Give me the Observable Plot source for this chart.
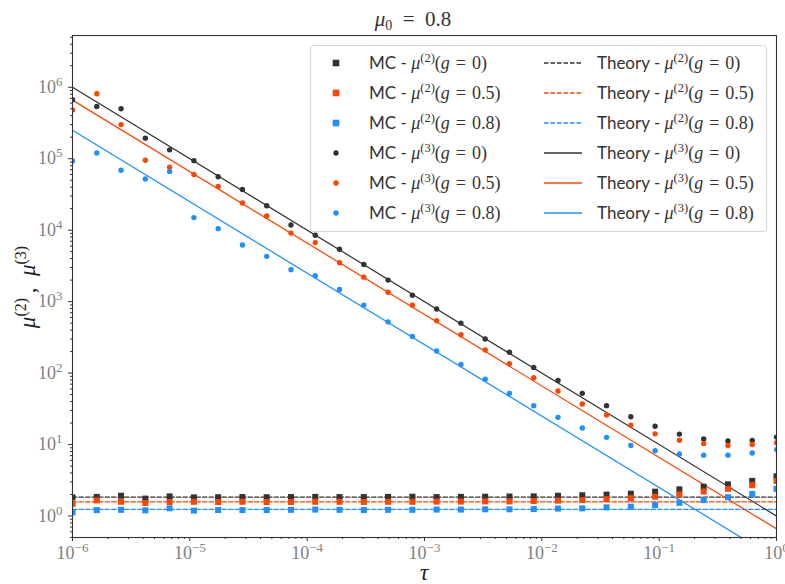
<!DOCTYPE html>
<html><head><meta charset="utf-8">
<script src="https://cdn.jsdelivr.net/npm/d3@7"></script>
<script src="https://cdn.jsdelivr.net/npm/@observablehq/plot@0.6"></script>
<style>
body{margin:0;background:#fff;}
#chart{position:relative;width:785px;height:584px;}
</style></head><body><div id="chart"></div>
<script>
// ---- data ----
const tau = [1e-6,1.61e-6,2.593e-6,4.175e-6,6.723e-6,1.083e-5,1.743e-5,2.807e-5,4.520e-5,7.279e-5,
  1.172e-4,1.887e-4,3.039e-4,4.894e-4,7.880e-4,1.269e-3,2.043e-3,3.290e-3,5.298e-3,8.532e-3,
  1.374e-2,2.212e-2,3.562e-2,5.736e-2,9.237e-2,0.1487,0.2395,0.3857,0.6210,1.0];
const gLabels = ["0","0.5","0.8"];
const gColors = ["#333333","#ff4500","#1e90ff"];
const mu2_g0  = [1.82,1.85,1.92,1.75,1.88,1.82,1.83,1.84,1.83,1.84,1.85,1.84,1.84,1.85,1.86,1.84,1.85,1.86,1.87,1.88,1.92,1.95,1.99,2.05,2.19,2.36,2.57,2.77,3.1,3.6];
const mu2_g05 = [1.48,1.65,1.58,1.52,1.57,1.58,1.57,1.58,1.57,1.57,1.58,1.58,1.57,1.58,1.58,1.59,1.59,1.6,1.6,1.62,1.64,1.67,1.73,1.77,1.86,2.0,2.2,2.4,2.7,3.1];
const mu2_g08 = [1.12,1.21,1.22,1.2,1.28,1.19,1.21,1.21,1.21,1.22,1.23,1.22,1.21,1.22,1.22,1.23,1.23,1.24,1.24,1.25,1.27,1.28,1.32,1.35,1.42,1.53,1.67,1.83,2.03,2.4];
const mu3_g0  = [6.7e5,5.4e5,5.0e5,1.94e5,1.33e5,9.4e4,5.6e4,3.7e4,2.2e4,1.18e4,8.5e3,5.4e3,3.3e3,2.0e3,1.23e3,790,500,300,196,120,79,52,35,24.5,18,14,12,11.2,11.4,12.7];
const mu3_g05 = [4.8e5,8.1e5,3.0e5,9.5e4,7.6e4,6.0e4,4.1e4,2.4e4,1.58e4,9.1e3,6.7e3,3.5e3,2.2e3,1.35e3,890,540,345,210,135,86,56,37,26,18.7,14.1,11.5,10.3,9.7,10,10.6];
const mu3_g08 = [9.3e4,1.2e5,6.9e4,5.2e4,6.6e4,1.5e4,1.05e4,6.2e3,4.3e3,2.8e3,2.3e3,1.48e3,890,520,325,204,132,82,52,35,24,17,12.6,9.7,8.2,7.4,7.1,7.1,7.6,8.5];
const theoryTau = [1e-6, 1];
const th2_g0 = [1.84, 1.84], th2_g05 = [1.57, 1.57], th2_g08 = [1.24, 1.24];
const th3_g0 = [1e6, 1], th3_g05 = [6.6e5, 0.66], th3_g08 = [2.5e5, 0.25];
const xTicks = [1e-6,1e-5,1e-4,1e-3,1e-2,1e-1,1];
const yTicks = [1,10,100,1e3,1e4,1e5,1e6];
const titleText = {base:"μ", sub:"0", rest:" = 0.8"};

// ---- tables ----
const mc2 = [mu2_g0, mu2_g05, mu2_g08].flatMap((arr, k) => arr.map((v, i) => ({tau: tau[i], v, g: gLabels[k]})));
const mc3 = [mu3_g0, mu3_g05, mu3_g08].flatMap((arr, k) => arr.map((v, i) => ({tau: tau[i], v, g: gLabels[k]})));
const th2 = [th2_g0, th2_g05, th2_g08].flatMap((arr, k) => arr.map((v, i) => ({tau: theoryTau[i], v, g: gLabels[k]})));
const th3 = [th3_g0, th3_g05, th3_g08].flatMap((arr, k) => arr.map((v, i) => ({tau: theoryTau[i], v, g: gLabels[k]})));

const minors = (lo, hi) => { const out = []; for (let e = lo; e <= hi; e++) for (let m = 2; m <= 9; m++) out.push(m * 10 ** e); return out; };
const xMinor = minors(-6, -1).filter(d => d < 1);
const yMinor = minors(-1, 6).filter(d => d >= 0.5 && d <= 5.3e6);
const fmt = d => "10^" + Math.round(Math.log10(d));

const serif = "Liberation Serif";
const sans = "Lato";

const plot = Plot.plot({
  width: 785, height: 584,
  marginLeft: 72, marginRight: 9, marginTop: 35, marginBottom: 47,
  style: {fontFamily: serif, background: "white", overflow: "visible"},
  x: {type: "log", domain: [1e-6, 1]},
  y: {type: "log", domain: [0.5, 5.3e6]},
  color: {domain: gLabels, range: gColors},
  marks: [
    Plot.line(th2, {x: "tau", y: "v", z: "g", stroke: "g", strokeWidth: 1.25, strokeDasharray: "4.5,2", clip: true}),
    Plot.line(th3, {x: "tau", y: "v", z: "g", stroke: "g", strokeWidth: 1.25, clip: true}),
    Plot.dot(mc2, {x: "tau", y: "v", fill: "g", symbol: "square", r: 3.4, clip: true}),
    Plot.dot(mc3, {x: "tau", y: "v", fill: "g", r: 2.7, clip: true}),
    Plot.frame({stroke: "#333", strokeWidth: 1.1}),
    Plot.axisX(xTicks, {anchor: "bottom", tickSize: 4, tickPadding: 5, tickFormat: fmt, label: null}),
    Plot.axisX(xMinor, {anchor: "bottom", tickSize: 2, tickFormat: () => "", label: null}),
    Plot.axisY(yTicks, {anchor: "left", tickSize: 4, tickPadding: 6, tickFormat: fmt, label: null}),
    Plot.axisY(yMinor, {anchor: "left", tickSize: 2, tickFormat: () => "", label: null})
  ]
});
document.getElementById("chart").appendChild(plot);

const svg = d3.select(plot);
// superscript tick labels
svg.selectAll('g[aria-label="x-axis tick label"] text, g[aria-label="y-axis tick label"] text').each(function() {
  const t = this.textContent;
  if (!t.includes("^")) return;
  const [b, e] = t.split("^");
  const el = d3.select(this);
  el.text("").attr("fill", "#808080").attr("font-size", 18).attr("font-family", serif);
  el.append("tspan").text(b);
  el.append("tspan").attr("font-size", 13).attr("dy", -7).text(e.replace("-", "\u2212"));
});
svg.selectAll('g[aria-label="x-axis tick"], g[aria-label="y-axis tick"]').attr("stroke", "#333");

// title
const title = svg.append("text").attr("x", 413).attr("y", 26).attr("text-anchor", "middle")
  .attr("font-family", serif).attr("font-size", 21).attr("fill", "#333");
title.append("tspan").attr("font-style", "italic").text(titleText.base);
title.append("tspan").attr("font-size", 14).attr("dy", 4).text(titleText.sub);
title.append("tspan").attr("dy", -4).text(titleText.rest.replace(" = ", "\u2002=\u2002"));

// x label
svg.append("text").attr("x", 424).attr("y", 580).attr("text-anchor", "middle")
  .attr("font-family", serif).attr("font-size", 23).attr("font-style", "italic").attr("fill", "#222").text("τ");

// y label
const yl = svg.append("text").attr("transform", "translate(35,287) rotate(-90)").attr("text-anchor", "middle")
  .attr("font-family", serif).attr("font-size", 23).attr("fill", "#222");
[["2", ", "], ["3", ""]].forEach(([m, after]) => {
  yl.append("tspan").attr("font-style", "italic").text("μ");
  yl.append("tspan").attr("font-size", 16).attr("dy", -9).text(`(${m})`);
  yl.append("tspan").attr("dy", 9).text(after ? "\u2009,\u2002" : "");
});

// legend
const lg = svg.append("g").attr("text-anchor", "start");
lg.append("rect").attr("x", 310.5).attr("y", 45.5).attr("width", 456).attr("height", 186).attr("rx", 3)
  .attr("fill", "white").attr("fill-opacity", 0.8).attr("stroke", "#d6d6d6");
const legM = ["2","2","2","3","3","3"];
const legG = [0,1,2,0,1,2];
function mathText(x, y, prefix, m, g) {
  const t = lg.append("text").attr("x", x).attr("y", y + 6).attr("font-size", 18).attr("fill", "#333")
    .attr("font-family", serif).attr("text-anchor", "start");
  t.append("tspan").attr("font-family", sans).attr("font-size", 17).text(prefix);
  t.append("tspan").attr("font-style", "italic").text("μ");
  t.append("tspan").attr("font-size", 12.5).attr("dy", -7).text(`(${m})`);
  t.append("tspan").attr("dy", 7).text("(");
  t.append("tspan").attr("font-style", "italic").text("g");
  t.append("tspan").text(`\u2004=\u2004${g})`);
}
legM.forEach((m, i) => {
  const y = 63 + 30 * i;
  const c = gColors[legG[i]];
  if (m === "2") lg.append("rect").attr("x", 336 - 3.3).attr("y", y - 3.3).attr("width", 6.6).attr("height", 6.6).attr("fill", c);
  else lg.append("circle").attr("cx", 336).attr("cy", y).attr("r", 2.7).attr("fill", c);
  mathText(369, y, "MC - ", m, gLabels[legG[i]]);
  const ln = lg.append("line").attr("x1", 544).attr("x2", 582).attr("y1", y).attr("y2", y).attr("stroke", c).attr("stroke-width", 1.3);
  if (m === "2") ln.attr("stroke-dasharray", "4.5,2");
  mathText(597, y, "Theory - ", m, gLabels[legG[i]]);
});
</script></body></html>
